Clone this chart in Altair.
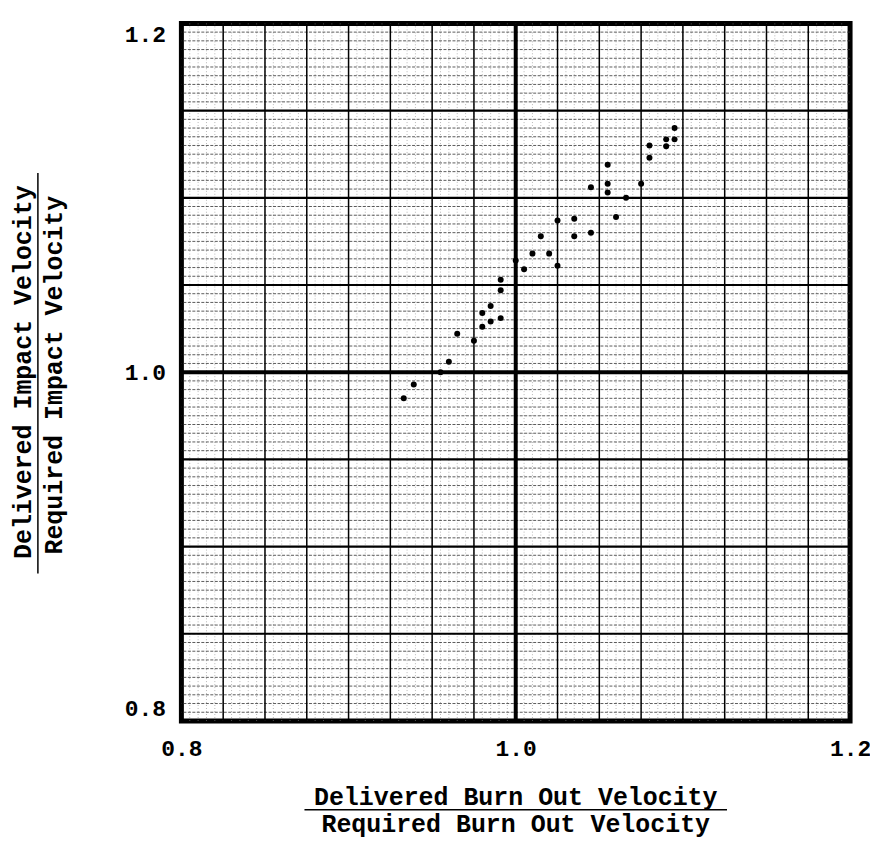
import altair as alt
import numpy as np
import pandas as pd

# Data (ratio delivered/required)
burnout_ratio = [0.933, 0.939, 0.955, 0.960, 0.965, 0.975, 0.980, 0.985, 0.980, 0.985,
                 0.991, 0.991, 0.991, 1.000, 1.005, 1.010, 1.015, 1.020, 1.025, 1.025,
                 1.035, 1.035, 1.045, 1.045, 1.055, 1.055, 1.055, 1.066, 1.060, 1.075,
                 1.080, 1.080, 1.090, 1.090, 1.095, 1.095]
impact_ratio = [0.985, 0.993, 1.000, 1.006, 1.022, 1.018, 1.026, 1.029, 1.034, 1.038,
                1.031, 1.047, 1.053, 1.064, 1.059, 1.068, 1.078, 1.068, 1.061, 1.087,
                1.088, 1.078, 1.080, 1.106, 1.119, 1.108, 1.103, 1.100, 1.089, 1.108,
                1.130, 1.123, 1.1335, 1.1295, 1.1335, 1.140]
tick_values = [0.8, 1.0, 1.2]

x_title = ["Delivered Burn Out Velocity", "Required Burn Out Velocity"]
y_title = ["Delivered Impact Velocity", "Required Impact Velocity"]

# graph-paper rulings
minor = np.round(np.arange(0.805, 1.2, 0.005), 3)
v_medium = np.round(np.arange(0.825, 1.2, 0.025), 3)
h_medium = np.round(np.arange(0.85, 1.2, 0.05), 3)
center = [1.0]

W, H = 671, 700
FONT = "Liberation Mono"

xs = alt.Scale(domain=[0.8, 1.2], nice=False, zero=False)
ys = alt.Scale(domain=[0.8, 1.2], nice=False, zero=False)

xaxis = alt.Axis(values=tick_values, format=".1f", labelFont=FONT, labelFontSize=23,
                 labelFontWeight="bold", labelColor="black", labelPadding=17,
                 domain=False, ticks=False, grid=False, title=None, labelFlush=False)
yaxis = alt.Axis(values=tick_values, format=".1f", labelFont=FONT, labelFontSize=23,
                 labelFontWeight="bold", labelColor="black", labelPadding=16,
                 domain=False, ticks=False, grid=False, title=None, labelFlush=True)

df = pd.DataFrame({"x": burnout_ratio, "y": impact_ratio})

vminor = alt.Chart(pd.DataFrame({"v": minor})).mark_rule(
    color="#8a8a8a", strokeWidth=0.6, strokeDash=[1, 2]).encode(
    x=alt.X("v:Q", scale=xs, axis=xaxis))
hminor = alt.Chart(pd.DataFrame({"v": minor})).mark_rule(
    color="#333333", strokeWidth=0.8, strokeDash=[3, 1.5]).encode(
    y=alt.Y("v:Q", scale=ys, axis=yaxis))
vmed = alt.Chart(pd.DataFrame({"v": v_medium})).mark_rule(
    color="black", strokeWidth=1.5).encode(x=alt.X("v:Q", scale=xs, axis=xaxis))
hmed = alt.Chart(pd.DataFrame({"v": h_medium})).mark_rule(
    color="black", strokeWidth=2.2).encode(y=alt.Y("v:Q", scale=ys, axis=yaxis))
vcen = alt.Chart(pd.DataFrame({"v": center})).mark_rule(
    color="black", strokeWidth=4).encode(x=alt.X("v:Q", scale=xs, axis=xaxis))
hcen = alt.Chart(pd.DataFrame({"v": center})).mark_rule(
    color="black", strokeWidth=4).encode(y=alt.Y("v:Q", scale=ys, axis=yaxis))

points = alt.Chart(df).mark_circle(color="black", size=36, opacity=1).encode(
    x=alt.X("x:Q", scale=xs, axis=xaxis),
    y=alt.Y("y:Q", scale=ys, axis=yaxis))

# axis titles drawn as fractions
txt = dict(font=FONT, fontSize=25, fontWeight="bold", color="black", baseline="middle", align="center")
xt1 = alt.Chart(pd.DataFrame({"t": [x_title[0]]})).mark_text(**txt).encode(
    x=alt.value(W / 2), y=alt.value(H + 76), text="t:N")
xt2 = alt.Chart(pd.DataFrame({"t": [x_title[1]]})).mark_text(**txt).encode(
    x=alt.value(W / 2), y=alt.value(H + 103), text="t:N")
xbar = alt.Chart(pd.DataFrame({"t": [0]})).mark_rule(color="black", strokeWidth=1.5).encode(
    x=alt.value(W / 2 - 212), x2=alt.value(W / 2 + 212), y=alt.value(H + 89))

yt1 = alt.Chart(pd.DataFrame({"t": [y_title[0]]})).mark_text(angle=270, **txt).encode(
    x=alt.value(-159), y=alt.value(350), text="t:N")
yt2 = alt.Chart(pd.DataFrame({"t": [y_title[1]]})).mark_text(angle=270, **txt).encode(
    x=alt.value(-128), y=alt.value(353), text="t:N")
ybar = alt.Chart(pd.DataFrame({"t": [0]})).mark_rule(color="black", strokeWidth=1.5).encode(
    x=alt.value(-144), y=alt.value(150), y2=alt.value(552))

chart = alt.layer(vminor, hminor, vmed, hmed, vcen, hcen, points,
                  xt1, xt2, xbar, yt1, yt2, ybar).properties(
    width=W, height=H,
    autosize=alt.AutoSizeParams(type="none"),
    padding={"left": 174, "top": 14, "right": 20, "bottom": 120},
    background="white",
).configure_view(stroke="black", strokeWidth=5)

chart.save("out.html", embed_options={"renderer": "svg", "actions": False})
